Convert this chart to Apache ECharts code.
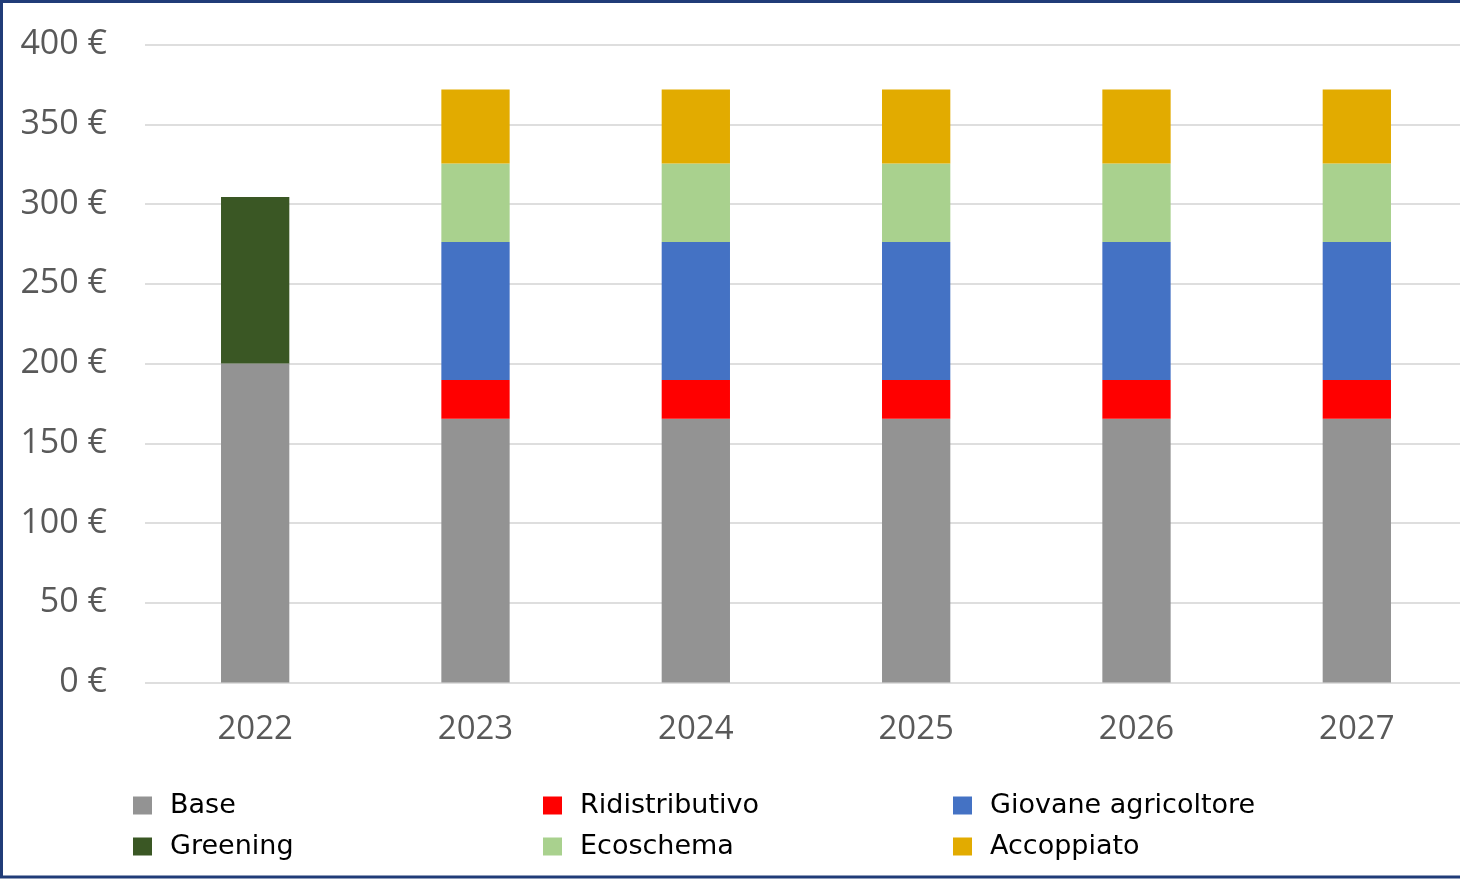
<!DOCTYPE html>
<html>
<head>
<meta charset="utf-8">
<script src="https://cdn.jsdelivr.net/npm/echarts@6/dist/echarts.min.js"></script>
<style>
html,body{margin:0;padding:0;background:#fff;overflow:hidden;width:1460px;height:879px;}
#c{width:1470px;height:879px;}
</style>
</head>
<body>
<div id="c"></div>
<script>
var categories = ['2022','2023','2024','2025','2026','2027'];
var base = [200, 165.3, 165.3, 165.3, 165.3, 165.3];
var greening = [104.4, null, null, null, null, null];
var ridistributivo = [null, 24.4, 24.4, 24.4, 24.4, 24.4];
var giovane = [null, 86.5, 86.5, 86.5, 86.5, 86.5];
var ecoschema = [null, 49.2, 49.2, 49.2, 49.2, 49.2];
var accoppiato = [null, 46.4, 46.4, 46.4, 46.4, 46.4];
var yTicks = [0, 50, 100, 150, 200, 250, 300, 350, 400];

var colors = {
  'Base':'#939393','Greening':'#3A5724','Ridistributivo':'#FF0000',
  'Giovane agricoltore':'#4472C4','Ecoschema':'#A9D18E','Accoppiato':'#E2AB00'
};

function bar(name, data){
  return {name:name, type:'bar', stack:'tot', data:data, barWidth:'31%',
    itemStyle:{color:colors[name]}, emphasis:{disabled:true}};
}

var font = '"Open Sans", "Noto Sans", sans-serif';
var legFont = '"DejaVu Sans", "Open Sans", sans-serif';
function leg(name, left, top){
  return {data:[name], left:left, top:top, orient:'horizontal', itemWidth:19, itemHeight:18,
    itemGap:0, icon:'rect', padding:0,
    textStyle:{fontFamily:legFont, fontSize:27, color:'#000', padding:[0,0,0,13]}};
}

var chart = echarts.init(document.getElementById('c'), null, {renderer:'canvas'});
chart.setOption({
  animation:false,
  backgroundColor:'#fff',
  grid:{left:145, right:3, top:44.5, bottom:196.5, containLabel:false},
  xAxis:{type:'category', data:categories,
    axisLine:{show:false}, axisTick:{show:false},
    axisLabel:{fontFamily:font, fontSize:33, color:'#595959', margin:31}},
  yAxis:{type:'value', min:yTicks[0], max:yTicks[yTicks.length-1], interval:50,
    axisLine:{show:false}, axisTick:{show:false},
    splitLine:{lineStyle:{color:'#dedede', width:2}},
    axisLabel:{fontFamily:font, fontSize:34, color:'#595959', margin:38,
      formatter:function(v){return v + ' €';}}},
  legend:[
    leg('Base',133,792), leg('Greening',133,833),
    leg('Ridistributivo',543,792), leg('Ecoschema',543,833),
    leg('Giovane agricoltore',953,792), leg('Accoppiato',953,833)
  ],
  series:[
    bar('Base', base),
    bar('Greening', greening),
    bar('Ridistributivo', ridistributivo),
    bar('Giovane agricoltore', giovane),
    bar('Ecoschema', ecoschema),
    bar('Accoppiato', accoppiato)
  ],
  graphic:[{type:'polyline', silent:true,
    shape:{points:[[1480,1.5],[1.5,1.5],[1.5,877],[1480,877]]},
    style:{stroke:'#203C78', lineWidth:3, fill:null}}]
});
</script>
</body>
</html>
